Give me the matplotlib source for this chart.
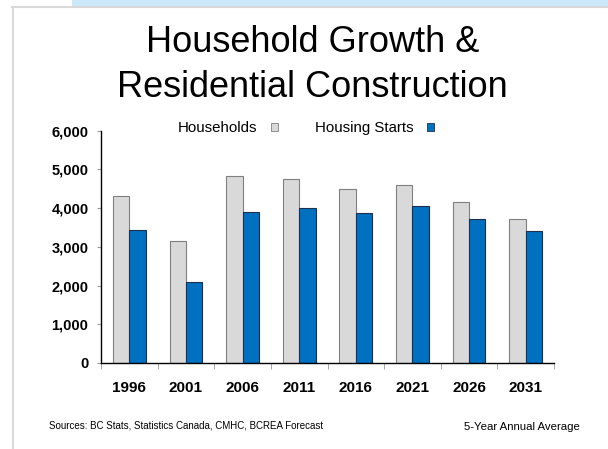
import matplotlib
matplotlib.use("Agg")
import matplotlib.pyplot as plt
from matplotlib.patches import Rectangle, Patch
from matplotlib.lines import Line2D
from matplotlib.ticker import FuncFormatter, FixedLocator
import numpy as np

plt.rcParams["font.family"] = ["Liberation Sans", "DejaVu Sans"]

years = ["1996", "2001", "2006", "2011", "2016", "2021", "2026", "2031"]
households = [4310, 3150, 4830, 4750, 4500, 4590, 4170, 3720]
housing_starts = [3430, 2100, 3910, 4000, 3870, 4050, 3730, 3400]

W, H = 608, 449
fig = plt.figure(figsize=(W / 100, H / 100), dpi=100)
fig.patch.set_facecolor("white")

def px(x, y):
    # pixel position (from top-left) -> figure fraction
    return x / W, 1 - y / H

# slide frame: light blue band on top, grey border lines
fig.patches.append(Rectangle(px(72, 6), (W - 72) / W, 6 / H, transform=fig.transFigure,
                             facecolor="#cce9fa", edgecolor="none", zorder=0))
fig.lines.append(Line2D([12 / W, 1], [1 - 6.5 / H] * 2, transform=fig.transFigure,
                        color="#d9d9d9", lw=1.5))
fig.lines.append(Line2D([13 / W] * 2, [0, 1 - 6.5 / H], transform=fig.transFigure,
                        color="#d9d9d9", lw=1.5))

# title
tx, ty = px(312.5, 52)
fig.text(tx, ty, "Household Growth &", ha="center", va="baseline", fontsize=26)
tx, ty = px(312.5, 97)
fig.text(tx, ty, "Residential Construction", ha="center", va="baseline", fontsize=26)

ax = fig.add_axes([101 / W, 1 - 363 / H, 453 / W, 232.3 / H])
x = np.arange(len(years))
bw = 0.29
ax.bar(x - bw / 2, households, bw, color="#d9d9d9", edgecolor="#7f7f7f", linewidth=0.8,
       label="Households", zorder=2)
ax.bar(x + bw / 2, housing_starts, bw, color="#0070c0", edgecolor="#1f2f4f", linewidth=0.8,
       label="Housing Starts", zorder=2)

ax.set_xlim(-0.5, len(years) - 0.5)
ax.set_ylim(0, 6000)
ax.set_yticks(np.arange(0, 6001, 1000))
ax.yaxis.set_major_formatter(FuncFormatter(lambda v, p: f"{int(v):,}"))
ax.set_xticks(x)
ax.set_xticklabels(years)
ax.xaxis.set_minor_locator(FixedLocator(np.arange(-0.5, len(years), 1.0)))

for s in ["top", "right"]:
    ax.spines[s].set_visible(False)
ax.spines["left"].set_linewidth(1.0)
ax.spines["bottom"].set_linewidth(1.0)

ax.tick_params(axis="y", direction="out", length=3, color="#999999", pad=6,
               labelsize=10.5)
ax.tick_params(axis="x", which="major", length=0, pad=13, labelsize=11)
ax.tick_params(axis="x", which="minor", direction="out", length=4, color="#999999")
for lab in ax.get_xticklabels() + ax.get_yticklabels():
    lab.set_fontweight("bold")

handles = [Patch(facecolor="#d9d9d9", edgecolor="#7f7f7f", linewidth=0.6, label="Households"),
           Patch(facecolor="#0070c0", edgecolor="#1f2f4f", linewidth=0.6, label="Housing Starts")]
lx, ly = px(178, 128)
fig.legend(handles=handles, ncol=2, markerfirst=False, frameon=False, fontsize=10.8,
           loc="center left", bbox_to_anchor=(lx, ly), bbox_transform=fig.transFigure,
           handlelength=0.45, handleheight=0.45, handletextpad=0.9, columnspacing=2.5,
           borderpad=0, borderaxespad=0)

sx, sy = px(49, 425)
fig.text(sx, sy, "Sources: BC Stats, Statistics Canada, CMHC, BCREA Forecast",
         ha="left", va="center", fontsize=7)
sx, sy = px(580, 427)
fig.text(sx, sy, "5-Year Annual Average", ha="right", va="center", fontsize=8.2)

fig.savefig("out.png", dpi=100)
